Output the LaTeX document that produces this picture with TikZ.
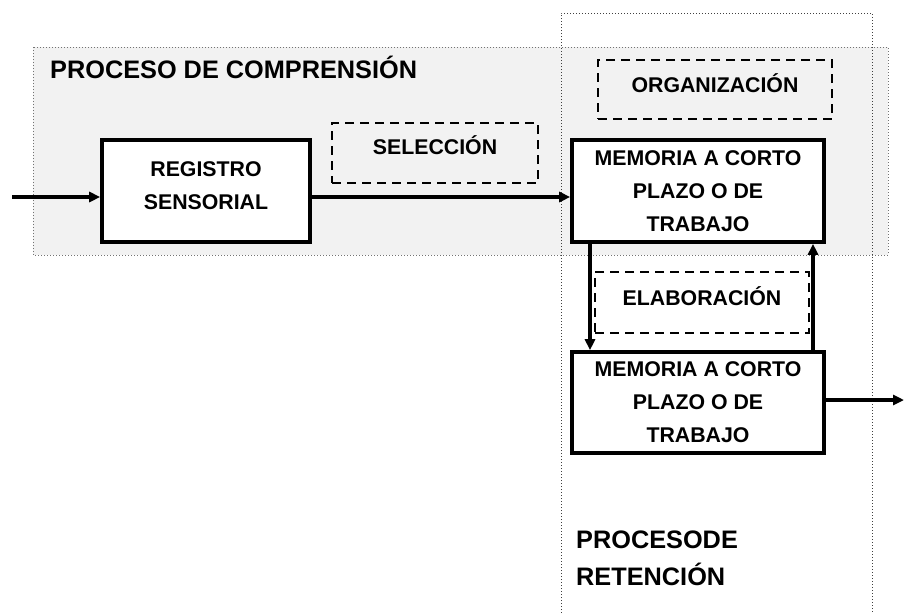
\documentclass[tikz,border=0pt]{standalone}
\usepackage{fontspec}
\setmainfont{Liberation Sans}
\usepackage{tikz}
\usetikzlibrary{arrows.meta}
\pgfdeclarelayer{background}
\pgfdeclarelayer{foreground}
\pgfsetlayers{background,main,foreground}

\begin{document}
\begin{tikzpicture}[x=1pt,y=-1pt,
					solidbox/.style={rectangle, draw=black, line width=3.6pt, fill=white, align=center, font=\fontsize{21.3}{33}\selectfont\bfseries, inner sep=0pt},
					dashbox/.style={rectangle, draw=black, line width=2.3pt, dash pattern=on 9pt off 6pt, align=center, font=\fontsize{21.3}{33}\selectfont\bfseries, inner sep=0pt},
					areatitle/.style={anchor=west, align=left, inner sep=0pt, font=\fontsize{25.3}{37}\selectfont\bfseries},
					flow/.style={line width=3.2pt, -{Triangle[length=11pt,width=10pt]}},
					]
					\useasboundingbox (0,0) rectangle (904,613);
					
					\begin{pgfonlayer}{background}
					%Areas
					\fill[black!5] (33,47) rectangle (888,255);
					\draw[black!55, dotted, line width=1pt] (33,47) rectangle (888,255);
					\draw[black!75, dotted, line width=1pt] (561,640) -- (561,13) -- (872,13) -- (872,640);
					\end{pgfonlayer}
					
					%Nodes
					\node[areatitle]                                              (comp)  at (50,67)    {PROCESO DE COMPRENSIÓN};
					\node[areatitle]                                              (ret)   at (576,558)  {PROCESODE\\RETENCIÓN};
					\node[solidbox, minimum width=208pt, minimum height=102pt, text depth=11pt]  (reg)   at (206,191)  {REGISTRO\\SENSORIAL};
					\node[dashbox, minimum width=206pt, minimum height=60pt, text depth=15pt]  (sel)   at (435,153)  {SELECCIÓN};
					\node[dashbox, minimum width=234pt, minimum height=59pt, text depth=13pt]  (org)   at (715,89.5) {ORGANIZACIÓN};
					\node[solidbox, minimum width=252pt, minimum height=102pt, text depth=-4pt]  (mcp1)  at (698,191)  {MEMORIA A CORTO\\PLAZO O DE\\TRABAJO};
					\node[dashbox, minimum width=214pt, minimum height=61pt, text depth=12pt]  (elab)  at (702,302.5) {ELABORACIÓN};
					\node[solidbox, minimum width=252pt, minimum height=101pt, text depth=-4pt]  (mcp2)  at (698,402.5) {MEMORIA A CORTO\\PLAZO O DE\\TRABAJO};
					\coordinate (in)  at (12,197);
					\coordinate (out) at (904,400);
					
					%Lines
					\draw[flow] (in) -- (reg.west |- in);
					\draw[flow] (reg.east |- in) -- (mcp1.west |- in);
					\draw[flow] (mcp1.south -| 590,0) -- (mcp2.north -| 590,0);
					\draw[flow] (mcp2.north -| 813,0) -- (mcp1.south -| 813,0);
					\draw[flow] (mcp2.east |- out) -- (out);
				\end{tikzpicture}
\end{document}
